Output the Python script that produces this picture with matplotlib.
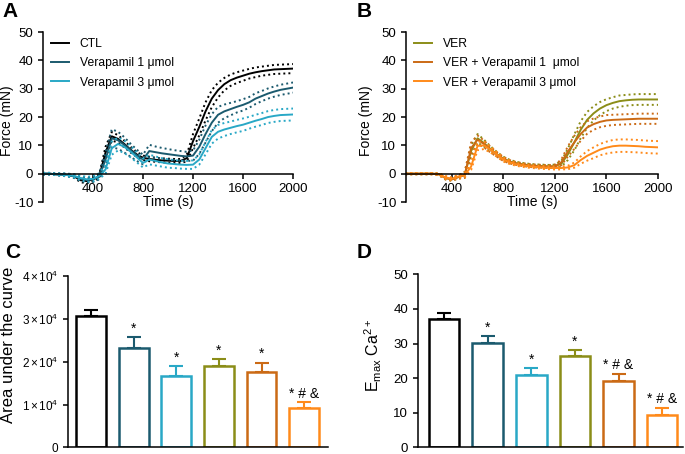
import numpy as np
import matplotlib.pyplot as plt

plt.rcParams['font.family'] = ['Liberation Sans', 'DejaVu Sans']
plt.rcParams['mathtext.fontset'] = 'custom'
plt.rcParams['mathtext.rm'] = 'Liberation Sans'
plt.rcParams['mathtext.it'] = 'Liberation Sans:italic'
plt.rcParams['mathtext.bf'] = 'Liberation Sans:bold'
plt.rcParams['axes.linewidth'] = 1.1
plt.rcParams['axes.unicode_minus'] = False

# time grid of the force recordings (s)
time = np.arange(0, 2001, 50)

# panel A: mean and SEM
ctl_mean = [0, 0, -0.2, -0.3, -0.5, -1.0, -2.3, -2.6, -2.0, -1.0,
            7.5, 13.2, 12.3, 10.5, 8.5, 6.8, 5.6, 5.2, 4.9, 4.7,
            4.6, 4.5, 4.5, 5.5, 11.5, 16.5, 22.0, 26.5, 29.5, 31.6,
            33.0, 33.9, 34.6, 35.3, 35.8, 36.2, 36.5, 36.8, 36.9, 37.0,
            37.1]
ctl_sem = [0.2, 0.2, 0.3, 0.3, 0.4, 0.5, 0.7, 0.8, 0.7, 0.8,
           2.0, 1.5, 1.3, 1.2, 1.0, 0.9, 0.8, 0.8, 0.7, 0.7,
           0.7, 0.7, 0.7, 1.2, 2.5, 3.0, 3.2, 3.0, 2.6, 2.2,
           2.0, 1.9, 1.8, 1.7, 1.7, 1.6, 1.6, 1.6, 1.6, 1.6,
           1.6]
v1_mean = [0, 0, -0.2, -0.3, -0.5, -0.9, -1.8, -2.2, -2.0, -1.0,
           5.0, 12.5, 11.8, 10.2, 8.3, 6.5, 5.0, 8.0, 7.6, 7.2,
           6.9, 6.6, 6.3, 6.1, 6.4, 9.5, 14.0, 18.0, 20.8, 22.0,
           22.8, 23.6, 24.3, 25.2, 26.5, 27.4, 28.3, 29.0, 29.6, 30.0,
           30.4]
v1_sem = [0.3, 0.3, 0.3, 0.4, 0.5, 0.6, 0.8, 0.9, 0.9, 1.0,
          2.5, 3.2, 3.0, 2.7, 2.3, 2.0, 1.7, 2.2, 2.0, 1.9,
          1.8, 1.7, 1.7, 1.6, 1.8, 2.5, 3.0, 3.0, 2.8, 2.4,
          2.2, 2.0, 2.0, 1.9, 1.9, 1.8, 1.8, 1.8, 1.8, 1.8,
          1.8]
v3_mean = [0, 0, -0.2, -0.3, -0.5, -0.8, -1.5, -2.0, -1.8, -0.8,
           1.5, 9.0, 10.5, 9.5, 7.8, 5.8, 3.8, 5.0, 4.5, 4.0,
           3.6, 3.4, 3.2, 3.1, 3.2, 5.0, 9.0, 13.0, 14.8, 15.6,
           16.2, 16.8, 17.3, 18.0, 18.7, 19.3, 20.0, 20.4, 20.7, 20.8,
           20.9]
v3_sem = [0.3, 0.3, 0.3, 0.4, 0.5, 0.6, 0.8, 0.9, 0.9, 1.0,
          1.5, 2.3, 2.3, 2.2, 2.0, 1.8, 1.6, 1.7, 1.6, 1.5,
          1.5, 1.4, 1.4, 1.4, 1.5, 1.8, 2.2, 2.4, 2.4, 2.3,
          2.2, 2.2, 2.2, 2.1, 2.1, 2.1, 2.1, 2.1, 2.1, 2.1,
          2.1]

# panel B: mean and SEM
ver_mean = [0, 0, 0, 0, 0, 0, -0.2, -1.5, -2.0, -1.2,
            -0.5, 8.0, 12.5, 10.8, 8.7, 6.9, 5.3, 4.3, 3.7, 3.3,
            3.0, 2.8, 2.7, 2.6, 2.6, 3.5, 6.8, 11.0, 15.5, 19.0,
            21.3, 23.0, 24.2, 25.0, 25.6, 25.9, 26.1, 26.2, 26.2, 26.2,
            26.2]
ver_sem = [0.2, 0.2, 0.2, 0.2, 0.2, 0.2, 0.3, 0.5, 0.5, 0.5,
           1.0, 2.0, 1.5, 1.2, 1.0, 0.8, 0.7, 0.6, 0.5, 0.5,
           0.5, 0.5, 0.5, 0.5, 0.6, 1.0, 2.0, 2.8, 3.0, 2.8,
           2.5, 2.3, 2.1, 2.0, 2.0, 1.9, 1.9, 1.9, 1.9, 1.9,
           1.9]
ver_v1_mean = [0, 0, 0, 0, 0, 0, -0.2, -1.5, -2.0, -1.2,
               -0.5, 9.0, 12.0, 10.5, 8.5, 6.8, 5.2, 4.2, 3.6, 3.2,
               2.9, 2.7, 2.6, 2.5, 2.6, 4.0, 7.8, 11.0, 14.0, 16.3,
               17.5, 18.3, 18.8, 19.0, 19.1, 19.2, 19.3, 19.4, 19.4, 19.4,
               19.4]
ver_v1_sem = [0.2, 0.2, 0.2, 0.2, 0.2, 0.2, 0.3, 0.5, 0.5, 0.5,
              1.0, 2.0, 1.5, 1.2, 1.0, 0.8, 0.7, 0.6, 0.5, 0.5,
              0.5, 0.5, 0.5, 0.5, 0.6, 1.0, 1.8, 2.3, 2.4, 2.2,
              2.0, 1.9, 1.9, 1.8, 1.8, 1.8, 1.8, 1.8, 1.8, 1.8,
              1.8]
ver_v3_mean = [0, 0, 0, 0, 0, 0, -0.2, -1.3, -1.8, -1.0,
               -0.5, 2.5, 9.8, 10.0, 8.5, 6.8, 5.0, 4.0, 3.3, 2.9,
               2.6, 2.4, 2.2, 2.1, 2.0, 2.0, 2.2, 3.0, 4.8, 6.3,
               7.4, 8.5, 9.2, 9.7, 9.9, 9.9, 9.8, 9.7, 9.5, 9.4,
               9.3]
ver_v3_sem = [0.2, 0.2, 0.2, 0.2, 0.2, 0.2, 0.3, 0.5, 0.5, 0.5,
              0.8, 1.2, 1.5, 1.3, 1.0, 0.8, 0.7, 0.6, 0.5, 0.5,
              0.5, 0.5, 0.5, 0.5, 0.5, 0.5, 0.6, 0.9, 1.3, 1.7,
              1.9, 2.0, 2.1, 2.2, 2.2, 2.2, 2.2, 2.2, 2.2, 2.2,
              2.2]

# panels C and D: bar values
groups = ["CTL", "V1", "V3", "VER", "VER+V1", "VER+V3"]
auc_mean = [30700, 23300, 16600, 18900, 17600, 9200]
auc_err = [1400, 2400, 2300, 1700, 2200, 1300]
emax_mean = [37.1, 30.2, 21.0, 26.4, 19.3, 9.4]
emax_err = [1.6, 1.9, 1.8, 1.8, 2.0, 2.1]
auc_marks = ["", "*", "*", "*", "*", "* # &"]
emax_marks = ["", "*", "*", "*", "* # &", "* # &"]

colors = ["#000000", "#1b5a6e", "#29a8c6", "#8b8d18", "#cb6a15", "#ff8a1a"]


def style_axes(ax):
    ax.spines['top'].set_visible(False)
    ax.spines['right'].set_visible(False)
    ax.tick_params(direction='out', length=3.5, width=1.1)


def plot_time(ax, curves, labels, cols, xmin, ylab_x):
    for (m, s), lab, c in zip(curves, labels, cols):
        m = np.array(m)
        s = np.array(s)
        ax.plot(time, m, color=c, lw=1.4, label=lab)
        ax.plot(time, m + s, color=c, lw=1.4, ls=(0, (1, 1.6)))
        ax.plot(time, m - s, color=c, lw=1.4, ls=(0, (1, 1.6)))
    style_axes(ax)
    ax.spines['bottom'].set_position(('data', 0))
    ax.set_xlim(xmin, 2000)
    ax.set_ylim(-10, 50)
    ax.set_xticks([400, 800, 1200, 1600, 2000])
    ax.set_yticks(range(-10, 51, 10))
    ax.tick_params(labelsize=9.5)
    ax.set_xlabel("Time (s)", fontsize=10)
    ax.xaxis.set_label_coords(0.5, 0.04)
    ax.set_ylabel("Force (mN)", fontsize=10)
    ax.yaxis.set_label_coords(ylab_x, 0.48)
    ax.legend(loc='upper left', bbox_to_anchor=(0.03, 0.965), frameon=False,
              fontsize=8.7, handlelength=1.5, handletextpad=0.9,
              labelspacing=0.6, borderpad=0, borderaxespad=0)


def plot_bars(ax, means, errs, marks, xmin, xmax):
    x = np.arange(len(means))
    for i in range(len(means)):
        ax.errorbar(x[i], means[i], yerr=[[0], [errs[i]]], color=colors[i],
                    lw=1.5, capsize=5, capthick=1.5, zorder=1)
        ax.bar(x[i], means[i], width=0.7, facecolor='white',
               edgecolor=colors[i], linewidth=1.8, zorder=2)
        if marks[i]:
            ax.annotate(marks[i], (x[i], means[i] + errs[i]), xytext=(0, 1),
                        textcoords='offset points', ha='center', va='bottom',
                        fontsize=10)
    style_axes(ax)
    ax.set_xlim(xmin, xmax)
    ax.set_xticks([])


fig = plt.figure(figsize=(6.85, 4.54), dpi=100)

axA = fig.add_axes([0.0628, 0.555, 0.365, 0.3744])
plot_time(axA, [(ctl_mean, ctl_sem), (v1_mean, v1_sem), (v3_mean, v3_sem)],
          ["CTL", "Verapamil 1 \u03bcmol", "Verapamil 3 \u03bcmol"], colors[:3], 0, -0.118)

axB = fig.add_axes([0.5927, 0.555, 0.3679, 0.3744])
plot_time(axB, [(ver_mean, ver_sem), (ver_v1_mean, ver_v1_sem), (ver_v3_mean, ver_v3_sem)],
          ["VER", "VER + Verapamil 1  \u03bcmol", "VER + Verapamil 3 \u03bcmol"], colors[3:], 45, -0.13)

axC = fig.add_axes([0.0993, 0.0145, 0.3796, 0.3776])
plot_bars(axC, auc_mean, auc_err, auc_marks, -0.54, 5.56)
axC.set_ylim(0, 40000)
axC.set_yticks([0, 10000, 20000, 30000, 40000])
axC.set_yticklabels(["0", r"$1\,{\times}\,10^4$", r"$2\,{\times}\,10^4$",
                     r"$3\,{\times}\,10^4$", r"$4\,{\times}\,10^4$"])
axC.tick_params(labelsize=8.5)
axC.set_ylabel("Area under the curve", fontsize=12)
axC.yaxis.set_label_coords(-0.2, 0.6)

axD = fig.add_axes([0.6102, 0.0145, 0.3869, 0.3814])
plot_bars(axD, emax_mean, emax_err, emax_marks, -0.6, 5.48)
axD.set_ylim(0, 50)
axD.set_yticks(range(0, 51, 10))
axD.tick_params(labelsize=9.5)
axD.set_ylabel(r"E$_{\rm max}$ Ca$^{2+}$", fontsize=11.5)
axD.yaxis.set_label_coords(-0.13, 0.53)

for lab, x, y in [("A", 0.003, 0.995), ("B", 0.521, 0.995),
                  ("C", 0.007, 0.465), ("D", 0.521, 0.465)]:
    fig.text(x, y, lab, fontsize=15, fontweight='bold', ha='left', va='top')

fig.savefig("out.png", dpi=100)
